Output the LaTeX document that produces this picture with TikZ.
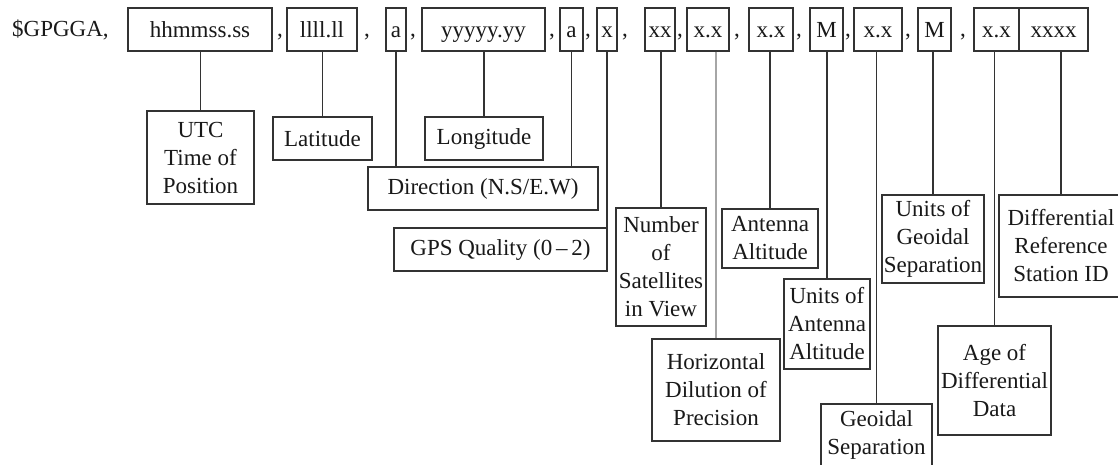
\documentclass[tikz,border=0pt]{standalone}
\usepackage{fontspec}
\setmainfont{Liberation Serif}
\usepackage{tikz}
\usetikzlibrary{positioning}
\tikzstyle{field_box}=[draw=black!80, line width=1.4pt, minimum height=43pt, inner sep=0pt, text height=17pt, text depth=2pt, text=black!90]
\tikzstyle{label_box}=[draw=black!80, line width=1.4pt, align=center, inner sep=0pt, text=black!90]
\tikzstyle{sep_text}=[anchor=base, inner sep=0pt, text=black!90]
\tikzstyle{link}=[draw=black!80, line width=1.6pt]
\tikzstyle{link_light}=[draw=black!35, line width=1.6pt]

\begin{document}
\begin{tikzpicture}[x=1pt, y=-1pt, font=\fontsize{23}{28}\selectfont]
\useasboundingbox[fill=white] (0,0) rectangle (1118,464);
\clip (0,0) rectangle (1118,464);
% sentence fields
\node[sep_text, anchor=base west] (head) at (12,36.5) {\$GPGGA,};
\node[field_box, minimum width=144pt] (hms_f) at (200,29.5) {hhmmss.ss};
\node[field_box, minimum width=70pt] (lat_f) at (322,29.5) {llll.ll};
\node[field_box, minimum width=20pt] (ns_f) at (396,29.5) {a};
\node[field_box, minimum width=123pt] (lon_f) at (483.5,29.5) {yyyyy.yy};
\node[field_box, minimum width=23pt] (ew_f) at (571.5,29.5) {a};
\node[field_box, minimum width=20pt] (q_f) at (607,29.5) {x};
\node[field_box, minimum width=30pt] (sat_f) at (660,29.5) {xx};
\node[field_box, minimum width=42pt] (hdop_f) at (708,29.5) {x.x};
\node[field_box, minimum width=44pt] (alt_f) at (771,29.5) {x.x};
\node[field_box, minimum width=33pt] (altu_f) at (826.5,29.5) {M};
\node[field_box, minimum width=48pt] (geo_f) at (878,29.5) {x.x};
\node[field_box, minimum width=33pt] (geou_f) at (934.5,29.5) {M};
\node[field_box, minimum width=45pt] (age_f) at (996.5,29.5) {x.x};
\node[field_box, minimum width=69pt] (id_f) at (1053.5,29.5) {xxxx};
% commas
\node[sep_text] (c1) at (280,36.5) {,};
\node[sep_text] (c2) at (367,36.5) {,};
\node[sep_text] (c3) at (413,36.5) {,};
\node[sep_text] (c4) at (552,36.5) {,};
\node[sep_text] (c5) at (588,36.5) {,};
\node[sep_text] (c6) at (625,36.5) {,};
\node[sep_text] (c7) at (680,36.5) {,};
\node[sep_text] (c8) at (737,36.5) {,};
\node[sep_text] (c9) at (799,36.5) {,};
\node[sep_text] (c10) at (848,36.5) {,};
\node[sep_text] (c11) at (908,36.5) {,};
\node[sep_text] (c12) at (963,36.5) {,};
% descriptions
\node[label_box, minimum width=107pt, minimum height=93pt] (utc) at (200.5,157.5) {UTC\\Time of\\Position};
\node[label_box, minimum width=99pt, minimum height=43pt] (lat) at (322.5,138.5) {Latitude};
\node[label_box, minimum width=118pt, minimum height=43pt] (lon) at (484,138.5) {Longitude};
\node[label_box, minimum width=230pt, minimum height=43pt] (dir) at (483,188.5) {Direction (N.S/E.W)};
\node[label_box, minimum width=213pt, minimum height=43pt] (gps) at (500.5,249.5) {GPS Quality (0\,--\,2)};
\node[label_box, minimum width=90pt, minimum height=118pt] (nsat) at (661,267) {Number\\of\\Satellites\\in View};
\node[label_box, minimum width=128pt, minimum height=102pt] (hdop) at (716,390) {Horizontal\\Dilution of\\Precision};
\node[label_box, minimum width=96pt, minimum height=59pt] (alt) at (770,238.5) {Antenna\\Altitude};
\node[label_box, minimum width=86pt, minimum height=90pt] (altu) at (827,324) {Units of\\Antenna\\Altitude};
\node[label_box, minimum width=111pt, minimum height=62pt] (geo) at (876.5,435) {Geoidal\\Separation};
\node[label_box, minimum width=102pt, minimum height=88pt] (geou) at (933,239) {Units of\\Geoidal\\Separation};
\node[label_box, minimum width=113pt, minimum height=109pt] (age) at (994.5,380.5) {Age of\\Differential\\Data};
\node[label_box, minimum width=124pt, minimum height=102pt] (dgps) at (1061,246) {Differential\\Reference\\Station ID};
% connectors
\draw[link](utc.north |- hms_f.south) -- (utc.north);
\draw[link](lat.north |- lat_f.south) -- (lat.north);
\draw[link](ns_f.south) -- (ns_f.south |- dir.north);
\draw[link](lon.north |- lon_f.south) -- (lon.north);
\draw[link](ew_f.south) -- (ew_f.south |- dir.north);
\draw[link](q_f.south) -- (q_f.south |- gps.north);
\draw[link](nsat.north |- sat_f.south) -- (nsat.north);
\draw[link_light](hdop.north |- hdop_f.south) -- (hdop.north);
\draw[link](alt.north |- alt_f.south) -- (alt.north);
\draw[link](altu.north |- altu_f.south) -- (altu.north);
\draw[link](geo.north |- geo_f.south) -- (geo.north);
\draw[link](geou.north |- geou_f.south) -- (geou.north);
\draw[link](age.north |- age_f.south) -- (age.north);
\draw[link](dgps.north |- id_f.south) -- (dgps.north);
\end{tikzpicture}
\end{document}
